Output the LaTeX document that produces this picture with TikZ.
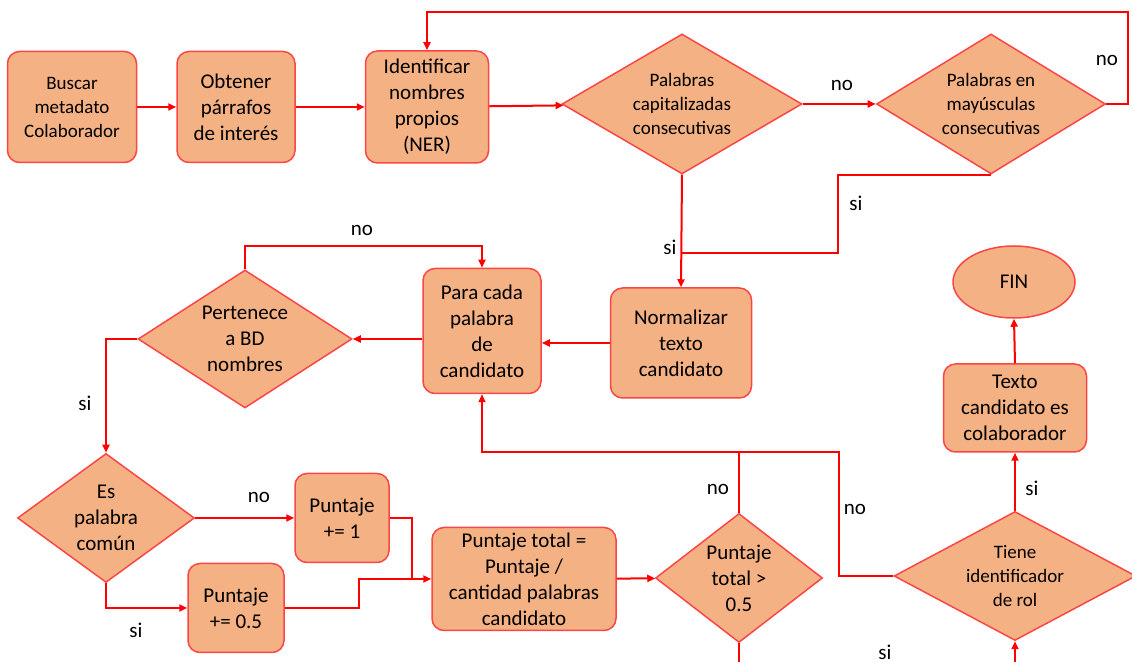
\documentclass[tikz,border=0pt]{standalone}
\usepackage{fontspec}
\setmainfont{Carlito}
\usetikzlibrary{shapes.geometric, arrows.meta, calc}
\definecolor{naranjaclaro}{RGB}{244, 177, 131}
\definecolor{rojoborde}{RGB}{250, 70, 70}
\definecolor{rojolinea}{RGB}{255, 0, 0}
\tikzset{
  caja/.style={draw=rojoborde, fill=naranjaclaro, rounded corners=6pt, line width=0.75pt, align=center, inner xsep=2pt, inner ysep=1pt},
  rombo/.style={draw=rojoborde, fill=naranjaclaro, diamond, line width=0.75pt, align=center, inner sep=0pt},
  chico/.style={font=\fontsize{9.5}{12}\selectfont},
  grande/.style={font=\fontsize{10.5}{13}\selectfont},
  flecha/.style={draw=rojolinea, line width=1pt, -{Triangle[length=4pt, width=3.5pt]}},
  linea/.style={draw=rojolinea, line width=1pt},
  etiq/.style={font=\fontsize{10.5}{13}\selectfont, inner sep=0pt}
}

\begin{document}
\begin{tikzpicture}[x=0.5pt, y=-0.5pt]
  \useasboundingbox (0,0) rectangle (1132,662);

  % Fila superior
  \node[caja, chico, minimum width=64.5pt, minimum height=55.5pt] (buscar) at (72,107) {Buscar\\metadato\\Colaborador};
  \node[caja, grande, minimum width=59pt, minimum height=55.5pt] (obtener) at (236,107) {Obtener\\párrafos\\de interés};
  \node[caja, grande, minimum width=61.5pt, minimum height=56pt] (ner) at (427,107) {Identificar\\nombres\\propios\\(NER)};
  \node[rombo, chico, aspect=1.7, minimum width=120pt, minimum height=70pt] (capit) at (682,104) {Palabras\\capitalizadas\\consecutivas};
  \node[rombo, chico, aspect=1.64, minimum width=114.5pt, minimum height=70pt] (mayus) at (991,104) {Palabras en\\mayúsculas\\consecutivas};

  % Bucle por palabra
  \node[caja, grande, minimum width=70.5pt, minimum height=55pt] (normal) at (681,343) {Normalizar\\texto\\candidato};
  \node[caja, grande, minimum width=59pt, minimum height=62.5pt] (cada) at (482,331) {Para cada\\palabra\\de\\candidato};
  \node[rombo, grande, aspect=1.55, minimum width=107pt, minimum height=69pt] (bd) at (245,339) {Pertenece\\a BD\\nombres};
  \node[rombo, grande, aspect=1.37, minimum width=88.5pt, minimum height=64.5pt] (comun) at (106,518) {Es\\palabra\\común};
  \node[caja, grande, minimum width=47pt, minimum height=44.5pt] (p1) at (342,518) {Puntaje\\+= 1};
  \node[caja, grande, minimum width=48pt, minimum height=44.5pt] (p05) at (236,608) {Puntaje\\+= 0.5};
  \node[caja, grande, minimum width=92pt, minimum height=51.5pt] (total) at (524,579) {Puntaje total =\\Puntaje /\\cantidad palabras\\candidato};
  \node[rombo, grande, aspect=1.3, minimum width=83.5pt, minimum height=64.5pt] (gt) at (739,578) {Puntaje\\total >\\0.5};

  % Final
  \node[rombo, chico, aspect=1.88, minimum width=121pt, minimum height=64.5pt] (rol) at (1015,576) {Tiene\\identificador\\de rol};
  \node[caja, grande, minimum width=71.5pt, minimum height=44pt] (colab) at (1015,408) {Texto\\candidato es\\colaborador};
  \node[ellipse, draw=rojoborde, fill=naranjaclaro, line width=0.75pt, grande, minimum width=61pt, minimum height=36pt] (fin) at (1014,282) {FIN};

  % Conectores
  \draw[flecha] (buscar) -- (obtener);
  \draw[flecha] (obtener) -- (ner);
  \draw[flecha] (ner) -- (capit);
  \draw[flecha] (capit) -- (mayus);
  \draw[flecha] (mayus.east) -- ++(22,0) -- ++(0,-92) -| (ner.north);
  \draw[linea] (mayus.south) -| ++(-153,78) -- ++(-156,0);
  \draw[flecha] (capit.south) -- (normal.north);
  \draw[flecha] (normal.west) -- (normal.west -| cada.east);
  \draw[flecha] (cada.west |- bd.east) -- (bd.east);
  \draw[flecha] (bd.north) -- ++(0,-23) -| (cada.north);
  \draw[flecha] (bd.west) -| (comun.north);
  \draw[flecha] (comun.east) -- (p1.west);
  \draw[flecha] (comun.south) |- (p05.west);
  \draw[flecha] (p1.east) -- ++(22,0) |- (total.west);
  \draw[linea] (p05.east) -| ++(74,-29) -- ++(53,0);
  \draw[flecha] (total) -- (gt);
  \draw[flecha] (gt.north) -- ++(0,-61) -| (cada.south);
  \draw[linea] (rol.west) -- ++(-54,0) -- ++(0,-124) -- ++(-101,0);
  \draw[flecha] (rol.north) -- (colab.south);
  \draw[flecha] (colab.north) -- (fin.south);
  \draw[flecha] (gt.south) -- ++(0,40) -| (rol.south);

  % Etiquetas
  \node[etiq] (no1) at (842,85) {no};
  \node[etiq] (no2) at (1107,60) {no};
  \node[etiq] (si1) at (856,203) {si};
  \node[etiq] (si2) at (670,247) {si};
  \node[etiq] (no3) at (362,230) {no};
  \node[etiq] (si3) at (85,403) {si};
  \node[etiq] (no4) at (259,497) {no};
  \node[etiq] (si4) at (136,630) {si};
  \node[etiq] (no5) at (718,489) {no};
  \node[etiq] (no6) at (855,509) {no};
  \node[etiq] (si5) at (1032,488) {si};
  \node[etiq] (si6) at (885,652) {si};
\end{tikzpicture}
\end{document}
